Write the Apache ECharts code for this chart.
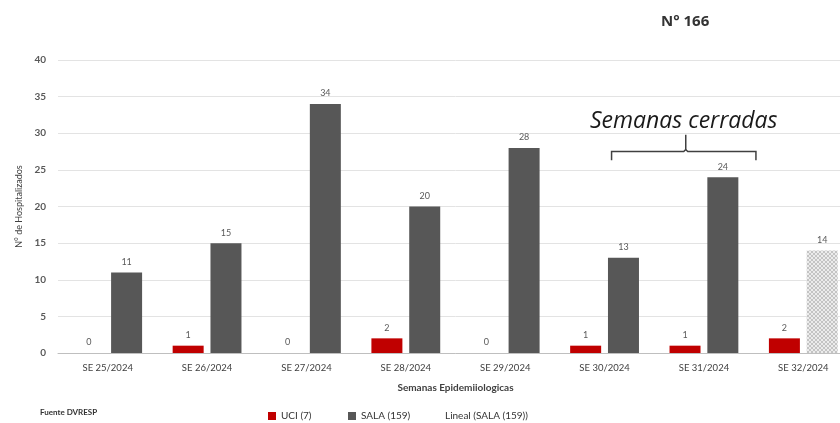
<!DOCTYPE html>
<html>
<head>
<meta charset="utf-8">
<script src="https://cdn.jsdelivr.net/npm/echarts@6/dist/echarts.min.js"></script>
<style>
  html, body { margin: 0; padding: 0; background: #ffffff; overflow: hidden; }
  /* the plot runs a little past the right edge of the page */
  #chart { width: 853px; height: 423px; }
</style>
</head>
<body>
<div id="chart"></div>
<script>
// Epidemiological weeks and hospitalisations per week
const categories = ['SE 25/2024', 'SE 26/2024', 'SE 27/2024', 'SE 28/2024',
                    'SE 29/2024', 'SE 30/2024', 'SE 31/2024', 'SE 32/2024'];
const uciValues = [0, 1, 0, 2, 0, 1, 1, 2];
const salaValues = [11, 15, 34, 20, 28, 13, 24, 14];
const yTicks = [0, 5, 10, 15, 20, 25, 30, 35, 40];
const closedWeeks = ['SE 30/2024', 'SE 31/2024'];

const FONT = 'Lato, "Open Sans", sans-serif';

// Cross-hatch fill for the open (still incomplete) week
function hatchPattern() {
  const c = document.createElement('canvas');
  c.width = 4; c.height = 4;
  const g = c.getContext('2d');
  g.fillStyle = '#ececec';
  g.fillRect(0, 0, 4, 4);
  g.strokeStyle = '#c4c4c4';
  g.lineWidth = 1;
  g.beginPath();
  g.moveTo(0, 0); g.lineTo(4, 4);
  g.moveTo(4, 0); g.lineTo(0, 4);
  g.stroke();
  return c;
}

const salaData = salaValues.map((v, i) => {
  if (i === salaValues.length - 1) {
    return { value: v, itemStyle: { color: { image: hatchPattern(), repeat: 'repeat' } } };
  }
  return v;
});

const labelStyle = { show: true, position: 'top', distance: 6, color: '#595959', fontSize: 9, fontFamily: FONT };
const legendText = { fontSize: 10, color: '#333333', fontFamily: FONT };
const legendBase = { top: 411, padding: 0, itemWidth: 8, itemHeight: 8, textStyle: legendText };

const chart = echarts.init(document.getElementById('chart'), null, { renderer: 'canvas' });

const option = {
  animation: false,
  backgroundColor: '#ffffff',
  title: {
    text: 'N° 166',
    left: 656, top: 9,
    textStyle: { fontSize: 15, fontWeight: 'bold', color: '#333333', fontFamily: '"Open Sans", sans-serif' }
  },
  grid: { left: 58, right: 0, top: 60, bottom: 70, containLabel: false },
  legend: [
    Object.assign({ left: 268, data: [{ name: 'UCI (7)', icon: 'rect' }] }, legendBase),
    Object.assign({ left: 348, data: [{ name: 'SALA (159)', icon: 'rect' }] }, legendBase),
    Object.assign({ left: 432, data: [{ name: 'Lineal (SALA (159))', icon: 'rect', itemStyle: { opacity: 0 } }] }, legendBase)
  ],
  xAxis: {
    type: 'category',
    data: categories,
    name: 'Semanas Epidemiiologicas',
    nameLocation: 'middle',
    nameGap: 30,
    nameTextStyle: { fontSize: 10, fontWeight: 'bold', color: '#404040', fontFamily: FONT },
    axisLine: { lineStyle: { color: '#bfbfbf', width: 1 } },
    axisTick: { show: false },
    axisLabel: { fontSize: 9.5, color: '#404040', fontFamily: FONT, margin: 10, interval: 0 }
  },
  yAxis: {
    type: 'value',
    min: yTicks[0], max: yTicks[yTicks.length - 1], interval: yTicks[1] - yTicks[0],
    name: 'N° de Hospitalizados',
    nameLocation: 'middle',
    nameGap: 34,
    nameTextStyle: { fontSize: 9, color: '#404040', fontFamily: FONT },
    axisLine: { show: false },
    axisTick: { show: false },
    splitLine: { lineStyle: { color: '#e3e3e3', width: 1 } },
    axisLabel: { fontSize: 10, fontWeight: 'bold', color: '#595959', fontFamily: FONT, margin: 12 }
  },
  series: [
    {
      name: 'UCI (7)', type: 'bar', data: uciValues,
      barWidth: 31, barGap: '22%',
      itemStyle: { color: '#c00000' },
      label: labelStyle
    },
    {
      name: 'SALA (159)', type: 'bar', data: salaData,
      barWidth: 31,
      itemStyle: { color: '#575757' },
      label: labelStyle
    },
    {
      name: 'Lineal (SALA (159))', type: 'line', data: [],
      itemStyle: { color: 'transparent' }, lineStyle: { color: 'transparent' }
    }
  ]
};

chart.setOption(option);

// Annotation: brace over the closed weeks, positioned from the axis scales
function placeBrace() {
  const a = chart.convertToPixel({ gridIndex: 0 }, [closedWeeks[0], 26.3]);
  const b = chart.convertToPixel({ gridIndex: 0 }, [closedWeeks[1], 27.5]);
  const top = chart.convertToPixel({ gridIndex: 0 }, [closedWeeks[0], 29.8])[1];
  const textY = chart.convertToPixel({ gridIndex: 0 }, [closedWeeks[0], 31.6])[1];
  const x1 = a[0] + 7, x2 = b[0] + 52;
  const yb = a[1], yl = b[1];
  const xm = (x1 + x2) / 2 + 2;
  const stroke = { stroke: '#404040', lineWidth: 1.5, fill: null };
  chart.setOption({
    graphic: [
      { type: 'polyline', shape: { points: [[x1, yb], [x1, yl], [xm - 2, yl], [xm, yl - 2], [xm + 2, yl], [x2, yl], [x2, yb]] }, style: stroke },
      { type: 'line', shape: { x1: xm, y1: yl - 2, x2: xm, y2: top }, style: stroke },
      { type: 'text', x: xm - 2, y: textY, style: { text: 'Semanas cerradas', fontSize: 23, fontStyle: 'italic', fontFamily: '"Open Sans", sans-serif', fill: '#1a1a1a', align: 'center', verticalAlign: 'middle' } },
      { type: 'text', left: 40, top: 408, style: { text: 'Fuente DVRESP', fontSize: 8, fontWeight: 'bold', fontFamily: FONT, fill: '#333333' } }
    ]
  });
}
placeBrace();
</script>
</body>
</html>
